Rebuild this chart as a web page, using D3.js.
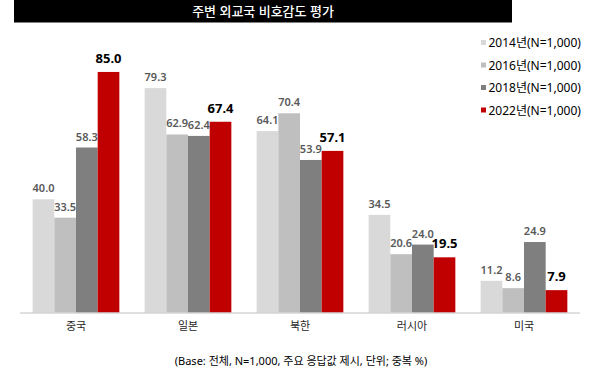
<!DOCTYPE html>
<html><head><meta charset="utf-8">
<script src="https://cdn.jsdelivr.net/npm/d3@7"></script>
<style>
body{margin:0;background:#fff;}
svg{display:block;font-family:"Noto Sans","Noto Sans CJK KR",sans-serif;}
</style></head>
<body><svg id="c" width="600" height="383"></svg>
<script>
const title = "주변 외교국 비호감도 평가";
const categories = ["중국","일본","북한","러시아","미국"];
const seriesNames = ["2014년(N=1,000)","2016년(N=1,000)","2018년(N=1,000)","2022년(N=1,000)"];
const seriesColors = ["#d9d9d9","#bfbfbf","#7f7f7f","#c00000"];
const v2014 = [40.0, 79.3, 64.1, 34.5, 11.2];
const v2016 = [33.5, 62.9, 70.4, 20.6, 8.6];
const v2018 = [58.3, 62.4, 53.9, 24.0, 24.9];
const v2022 = [85.0, 67.4, 57.1, 19.5, 7.9];
const footnote = "(Base: 전체, N=1,000, 주요 응답값 제시, 단위; 중복 %)";

const series = [v2014, v2016, v2018, v2022];
const svg = d3.select("#c");

// title bar
svg.append("rect").attr("x",14).attr("y",0).attr("width",498).attr("height",22.5).attr("fill","#000");
svg.append("text").attr("x",263).attr("y",16).attr("text-anchor","middle")
  .attr("fill","#fff").attr("font-size",13).attr("font-weight",500).text(title);

const baseY = 312.5;
const x0 = d3.scaleBand().domain(categories).range([20,580]).paddingInner(0.226).paddingOuter(0.113);
const x1 = d3.scaleBand().domain(d3.range(series.length)).range([0,x0.bandwidth()]).padding(0);
const y = d3.scaleLinear().domain([0,100]).range([baseY, baseY-283]);

const groups = svg.append("g").selectAll("g").data(categories).join("g")
  .attr("transform", d => `translate(${x0(d)},0)`);

series.forEach((vals, si) => {
  groups.append("rect")
    .attr("x", x1(si)).attr("width", x1.bandwidth())
    .attr("y", (d,i) => y(vals[i])).attr("height", (d,i) => baseY - y(vals[i]))
    .attr("fill", seriesColors[si]);
});

series.forEach((vals, si) => {
  const last = si === series.length-1;
  groups.append("text")
    .attr("x", x1(si) + x1.bandwidth()/2)
    .attr("y", (d,i) => y(vals[i]) - (last ? 9 : 7))
    .attr("text-anchor","middle")
    .attr("font-size", last ? 13 : 11)
    .attr("font-weight", last ? 700 : 600)
    .attr("fill", last ? "#000" : "#595959")
    .text((d,i) => vals[i].toFixed(1));
});

// axis
const axis = d3.axisBottom(x0).tickSize(0).tickPadding(10);
const ax = svg.append("g").attr("transform",`translate(0,${baseY})`).call(axis);
ax.select(".domain").attr("stroke","#bfbfbf").attr("stroke-width",1).attr("d","M20,0.5H580");
ax.selectAll("text").attr("font-size",11).attr("fill","#262626")
  .attr("font-family","'Noto Sans CJK KR','Noto Sans',sans-serif");

// legend
const leg = svg.append("g").selectAll("g").data(seriesNames).join("g")
  .attr("transform",(d,i)=>`translate(481,${42.5 + i*22.5})`);
leg.append("rect").attr("x",0).attr("y",-2.5).attr("width",5).attr("height",5)
  .attr("fill",(d,i)=>seriesColors[i]);
leg.append("text").attr("x",7.5).attr("y",4.5).attr("font-size",12).attr("fill","#000").text(d=>d);

// footnote
svg.append("text").attr("x",301).attr("y",365).attr("text-anchor","middle")
  .attr("font-size",11).attr("fill","#000").text(footnote);
</script></body></html>
